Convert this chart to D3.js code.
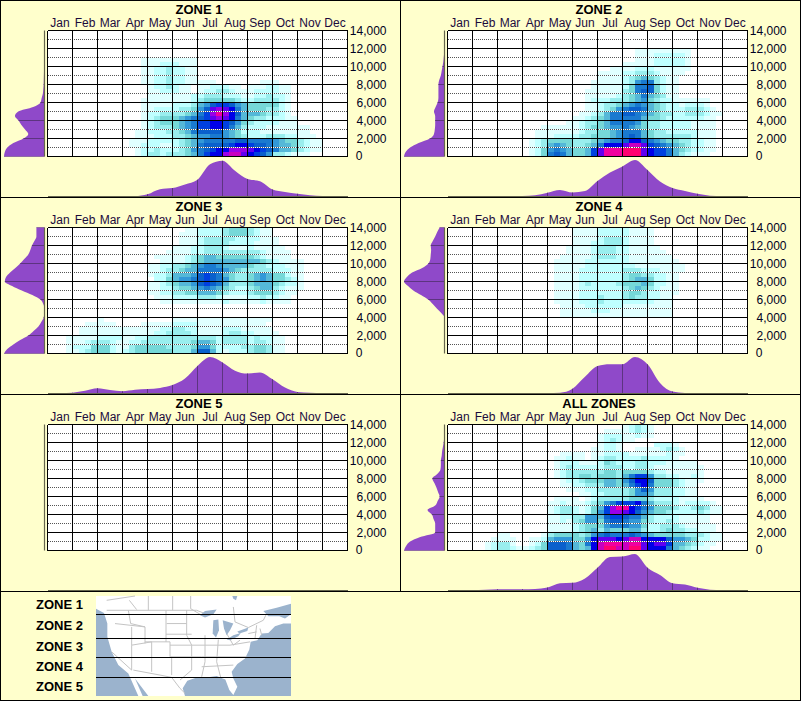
<!DOCTYPE html>
<html><head><meta charset="utf-8">
<script src="https://cdn.jsdelivr.net/npm/d3@7/dist/d3.min.js"></script>
<style>html,body{margin:0;padding:0;background:#ffffcc}svg{display:block}text{font-family:"Liberation Sans",Arial,sans-serif}</style>
</head><body><svg id="c" width="801" height="701"></svg>
<script>
const months = ["Jan","Feb","Mar","Apr","May","Jun","Jul","Aug","Sep","Oct","Nov","Dec"];
const elevationTicks = [0,2000,4000,6000,8000,10000,12000,14000];
const panelTitles = ["ZONE 1","ZONE 2","ZONE 3","ZONE 4","ZONE 5","ALL ZONES"];
const legendNames = ["ZONE 1","ZONE 2","ZONE 3","ZONE 4","ZONE 5"];
// Sighting-density levels, hex digit per quarter-month cell; "start:levels", row 0 = 13,500-14,000 ft
const levelColors = ["#ffffff","#e0ffff","#bfffff","#99eeee","#76d8d8","#55b8d8","#3399d8","#1a7ad0","#0a60cc","#0040e0","#0000e8","#6000f0","#9a00e8","#c800c0","#f000a0","#ff0070"];
const zone1Cells = ["","","","","","",
"15:111111111","15:111222111","15:112232211","15:112232211","15:112232211",
"15:112232211 111 0000000 111",
"16:1223211 0 1122211 0 1112211",
"16:1122211 0 1223321 1 1222211",
"16:1111111 22333222 11 22322 1",
"15:11111111 234444432 2333321",
"15:11111222 3 56899865 4444421",
"15:112222334 68bcba75 4443321",
"15:122333345 79ceca85 5543321",
"15:123444567 89bcba75 43322211",
"15:123444567 99aa9864 32222111",
"15:123334567 99aa9753 2221111111",
"14:1122233457 88886542 2211111111",
"14:1112223345 66776543 22233322111",
"13:11122222345 67777788 777765443211",
"13:11222112345 788889aa 988765543211",
"14:1223222346 789aaccc ba9875543211",
"14:1233233345 79aacddb a986332111"];
const zone2Cells = ["","","","",
"30:111111111","30:111222221","30:111222221","28:11111222221","26:1111222111111",
"24:1111 2233321111","24:1111 234543211","23:11111 236773211","23:11111 247784211",
"22:111111 347884211","22:11111 2345754311",
"22:12223334564322111111","22:11233456765432212221","22:112346788754322233321",
"21:11235778876543322333211","20:11234577777544322222211","19:112334577776433222221111",
"15:111111 2344566765433222221111","14:1111111 2334456777543322222111",
"14:11122223344456787543333332111","13:1234444333456778aa876544332211",
"13:123565433457aaabddb98765432211","13:1246765445 9beeefffba 9975432211",
"13:1247875445 9beeefffba 997532111"];
const zone3Cells = ["22:11222234443211","21:111222234443211","21:1112333332222111","21:1112333322221111",
"20:111223332111211111","19:11112233333333321111","17:1111123455444444321111","18:1111234 555555555 432 1111",
"16:1122334567765555433222111","16:1123345577776543333322211","16:1223555689875433456544211",
"17:224566789876433456544321","16:1123455689875333455543221","16:1122344567654322345532111",
"16:112233445554322234443211","17:1112222333211112232211","18:1111111111 2 11111 2 1111","","","",
"8:1 00000000000 1111111111111111","6:11111 0000 11111 2222 11111111111",
"5:1111111111111 223322 1111 222 11111","5:111111111111 2233332 1111 23322 1111",
"3:11111 2222 11 22 33333333333 2 3333 2 3 22 11","3:111 2333 2 11 22 33333333 4554 2 3333 2 33 2 11",
"3:1222 444 2 11 3 44444 3333 4664 2222 33 44 3 11","3:11 23444 2 1 23 444444 333 5885 2 1 222 3 44 3 11"];
const zone4Cells = ["20:1111 22222 1111","20:1111 22222 1111","20:1111 23332 1111","20:111 2 2333 2 1111",
"19:1111 2 333 22 11111","19:1111 2 333 22 111111","18:11111 2 333 22 1111111","17:11111 2222222 11111111",
"17:11111 22222222 11111111","17:1111 2222222 333 222 1111","17:1111 2222222 3 44 33 22 11",
"17:1111 2222222 3 455 4 22 11","17:1111 2 3 2222 3 444 5 4 22 11","17:1111 2222222 3 45 4 3 2 111",
"17:1111 2222222 3 44 3 22 111","17:1111 222 3 222 3 4 33 22 11","17:1111 222 3 22222222 111",
"18:1111 222222 11111 111","18:11111 222 111111111 1","18:111111111111111111","","","","","","","",""];
const zone5Cells = [];
const allZoneCells = ["28:12321","25:111 1 2321","24:1222 1 1 2 1 1","24:123211","24:1221 00000 222 1",
"23:11221 00 1111 2321","18:1111 0 11 2222 111111 211","17:11211 0 1 2 33 2222 3 2222 1",
"17:1222 111 2 4 3 222 33 222 11111","17:123 22222 333 22 33 2 11111111","17:12 333333 44 3 4444 3 22 111111",
"17:1233 44 3 444 3 57996 3322 1121","18:1223444 55 4 68aa8 44432111","18:1122333 554 579a7 4443211",
"19:111 22 33333 4686 33322 11","21:11 22 3333 4665 33322 11","17:1111 0 1 2 33333 4443 2222 1111",
"16:112111 23 4679 99a7 5 33321 22221","16:123321 24 59ceea97 6 44432 234311","16:123321 24 69ccba86 5 44322 223211",
"16:112233 66 58998775 3 2222 11111","16:112134 66 47887664 3 22 3 2 11111","16:111123 44 46777664 2 2 333 2 11111",
"16:111123 45 35444553 2 2 34 33 22 111","8:11 00000 1 3444 4 3 4 6 78777876 5 44444 33321 1",
"7:1111 00 11 2 5666 44 6 a bbbabdda aaa 8 66542211","6:12331 00 12 4 8887 54 7 a deeedeeb a bb 9 5543211",
"6:12332 1 1 2 3 4 8887 54 5 a dffddffb aaa 7 543211"];
// Marginal densities: month profile at half-month steps, elevation profile at 500 ft steps from 0
const zone1Months = [0,0,0,0,0,0,0,0,.05,.19,.22,.32,.45,.88,.98,.7,.47,.41,.18,.11,.06,.02,0,0,0];
const zone2Months = [0,0,0,0,0,0,0,.02,.09,.17,.1,.14,.42,.65,.82,1,.72,.4,.22,.14,.06,.01,0,0,0];
const zone3Months = [0,0,.01,.06,.13,.08,.05,.09,.11,.14,.22,.4,.75,1,.85,.62,.54,.57,.38,.15,.03,.01,0,0,0];
const zone4Months = [0,0,0,0,0,0,0,0,0,.01,.12,.45,.75,.8,.8,1,.8,.28,.04,0,0,0,0,0,0];
const zone5Months = [];
const allMonths = [0,0,0,.01,.02,.02,.02,.03,.07,.19,.2,.32,.62,.92,.93,1,.62,.42,.19,.15,.06,.01,0,0,0];
const zone1Elev = [1,.98,.92,.77,.52,.4,.48,.57,.64,.73,.65,.28,.1,.07,.04,.03,.02,.018,.015,.012,.01,.006,.004,0,0,0,0,0,0];
const zone2Elev = [1,.96,.85,.64,.36,.26,.24,.23,.23,.23,.26,.22,.17,.15,.15,.15,.15,.13,.09,.07,.05,.03,.02,.01,.01,0,0,0,0];
const zone3Elev = [1,.92,.77,.6,.4,.27,.15,.08,.02,.005,0,.03,.1,.3,.56,.8,.98,.95,.85,.72,.6,.5,.4,.35,.31,.25,.2,.2,.2];
const zone4Elev = [0,0,0,0,0,0,0,0,0,.08,.19,.29,.4,.58,.77,.9,1,.93,.8,.55,.4,.35,.34,.33,.34,.29,.23,.18,.12];
const zone5Elev = [];
const allElev = [1,.95,.85,.6,.23,.23,.23,.27,.31,.42,.23,.17,.12,.16,.2,.25,.3,.18,.1,.09,.09,.07,.06,.04,.02,.01,0,0,0];

const panels = [
 {cells:zone1Cells,m:zone1Months,e:zone1Elev},{cells:zone2Cells,m:zone2Months,e:zone2Elev},
 {cells:zone3Cells,m:zone3Months,e:zone3Elev},{cells:zone4Cells,m:zone4Months,e:zone4Elev},
 {cells:zone5Cells,m:zone5Months,e:zone5Elev},{cells:allZoneCells,m:allMonths,e:allElev}];

const svg = d3.select("#c");
svg.append("rect").attr("width",801).attr("height",701).attr("fill","#ffffcc");
const x0=47.5,x1=347.5,yTop=30.5,yBot=156.5;
const month = d3.scaleLinear().domain([0,12]).range([x0,x1]);
const monthBand = d3.scaleBand().domain(months).range([x0,x1]);
const alt = d3.scaleLinear().domain([0,14000]).range([yBot,yTop]);
const col = d3.scaleBand().domain(d3.range(48)).range([x0,x1]);
const row = d3.scaleBand().domain(d3.range(28)).range([yTop,yBot]);
const mDen = d3.scaleLinear().domain([0,1]).range([196,160]);
const eDen = d3.scaleLinear().domain([0,1]).range([44.5,4]);
const PURPLE="#8f49c9",DARK="#5c3480",BASE="#66664e";

function parseCells(rows){
  const out=[];
  rows.forEach((s,r)=>{
    if(!s) return;
    const [st,lv]=s.split(":");
    lv.replace(/ /g,"").split("").forEach((ch,i)=>{
      const v=parseInt(ch,16);
      if(v>0) out.push({r,c:+st+i,v});
    });
  });
  return out;
}
panels.forEach((p,i)=>{
  const px=(i%2)*400, py=Math.floor(i/2)*197;
  const g=svg.append("g").attr("transform",`translate(${px},${py})`);
  g.append("text").attr("x",199).attr("y",14).attr("text-anchor","middle").attr("font-size",13).attr("font-weight","bold").attr("fill","#000").text(panelTitles[i]);
  // plot area
  g.append("rect").attr("x",x0).attr("y",yTop).attr("width",x1-x0).attr("height",yBot-yTop).attr("fill","#fff");
  g.append("g").selectAll("rect").data(parseCells(p.cells)).join("rect")
    .attr("x",d=>col(d.c)).attr("y",d=>row(d.r)).attr("width",col.bandwidth()).attr("height",row.bandwidth())
    .attr("fill",d=>levelColors[d.v]).attr("shape-rendering","crispEdges");
  // dotted half-ticks
  const halves=elevationTicks.slice(0,-1).map(d=>d+1000);
  const hg=g.append("g").attr("shape-rendering","crispEdges");
  hg.selectAll(".w").data(halves).join("line").attr("class","w").attr("x1",x0).attr("x2",x1).attr("y1",alt).attr("y2",alt).attr("stroke","#fff");
  hg.selectAll(".d").data(halves).join("line").attr("class","d").attr("x1",x0).attr("x2",x1).attr("y1",alt).attr("y2",alt).attr("stroke","#555").attr("stroke-dasharray","1,1");
  // solid grid
  const gg=g.append("g").attr("shape-rendering","crispEdges").attr("stroke","#000");
  gg.selectAll(".h").data(elevationTicks).join("line").attr("class","h").attr("x1",x0).attr("x2",x1).attr("y1",alt).attr("y2",alt);
  gg.selectAll(".v").data(d3.range(13)).join("line").attr("class","v").attr("x1",month).attr("x2",month).attr("y1",yTop).attr("y2",yBot);
  // axes
  const top=d3.axisTop(monthBand).tickSize(0).tickPadding(0);
  const ta=g.append("g").attr("transform",`translate(0,27)`).call(top);
  ta.select(".domain").remove();
  ta.selectAll("text").attr("y",0).attr("dy",0).attr("font-size",12).attr("font-family",null).attr("fill","#1c0a3c");
  const right=d3.axisRight(alt).tickValues(elevationTicks).tickFormat(d3.format(",")).tickSize(0).tickPadding(0);
  const ra=g.append("g").attr("transform",`translate(386.5,0)`).call(right);
  ra.select(".domain").remove();
  ra.selectAll("text").attr("text-anchor","end").attr("x",0).attr("dy",null).attr("y",4).attr("font-size",12).attr("font-family",null).attr("fill","#000022");
  ra.selectAll(".tick").filter(d=>d===0).select("text").attr("x",-24).attr("y",3);
  // bottom density
  if(p.m.length){
    const area=d3.area().curve(d3.curveMonotoneX).x((d,k)=>month(k/2)).y0(mDen(0)).y1(d=>mDen(d));
    g.append("clipPath").attr("id","cm"+i).append("path").attr("d",area(p.m));
    g.append("path").attr("d",area(p.m)).attr("fill",PURPLE);
    g.append("g").attr("clip-path",`url(#cm${i})`).attr("shape-rendering","crispEdges").selectAll("line").data(d3.range(13)).join("line")
      .attr("x1",month).attr("x2",month).attr("y1",160).attr("y2",196).attr("stroke",DARK);
  }
  g.append("line").attr("x1",x0).attr("x2",x1).attr("y1",196.5).attr("y2",196.5).attr("stroke",BASE).attr("stroke-width",1).attr("shape-rendering","crispEdges");
  // left density
  if(p.e.length){
    const area=d3.area().curve(d3.curveMonotoneY).y((d,k)=>alt(k*500)).x0(eDen(0)).x1(d=>eDen(d));
    g.append("clipPath").attr("id","ce"+i).append("path").attr("d",area(p.e));
    g.append("path").attr("d",area(p.e)).attr("fill",PURPLE);
    g.append("g").attr("clip-path",`url(#ce${i})`).attr("shape-rendering","crispEdges").selectAll("line").data(elevationTicks).join("line")
      .attr("x1",4).attr("x2",44.5).attr("y1",alt).attr("y2",alt).attr("stroke",DARK);
  }
  g.append("line").attr("x1",44.5).attr("x2",44.5).attr("y1",yTop).attr("y2",yBot).attr("stroke",BASE).attr("stroke-width",1.2);
});
// panel frame
const frameH=[0.5,197.5,394.5,591.5,700.5], frameV=[0.5,400.5,800.5];
const fg=svg.append("g").attr("stroke","#000").attr("shape-rendering","crispEdges");
fg.selectAll(".h").data(frameH).join("line").attr("class","h").attr("x1",0).attr("x2",801).attr("y1",d=>d).attr("y2",d=>d);
fg.selectAll(".v").data(frameV).join("line").attr("class","v").attr("y1",0).attr("y2",d=>d===400.5?591:701).attr("x1",d=>d).attr("x2",d=>d);

// legend
const legendY=[609,630,651,671,691];
svg.append("g").selectAll("text").data(legendNames).join("text").attr("x",36).attr("y",(d,i)=>legendY[i]).attr("font-size",13).attr("font-weight","bold").attr("fill","#000").text(d=>d);
// zone map (reference image, source units)
const mapX=d3.scaleLinear().domain([288,873]).range([96,291]);
const mapY=d3.scaleLinear().domain([17,318]).range([596,696]);
const land=[[288,17],[873,17],[873,100],[850,100],[825,108],[805,128],[785,130],[772,150],[752,155],[748,178],[735,205],[712,222],[695,245],[700,265],[712,290],[700,315],[688,300],[676,268],[650,258],[620,262],[590,262],[562,272],[548,295],[555,318],[445,318],[405,265],[428,318],[415,318],[385,250],[355,225],[335,185],[322,140],[322,100],[312,68],[288,55]];
const waters=[[[790,62],[830,52],[873,40],[873,72],[855,85],[838,78],[805,78]],
 [[600,75],[615,62],[650,58],[640,72],[615,82]],[[640,90],[655,88],[657,120],[648,142],[638,130]],
 [[668,90],[700,100],[690,120],[680,135],[672,115]],[[680,148],[700,135],[722,128],[715,138],[690,150]],
 [[712,124],[745,112],[742,122],[718,130]],[[697,17],[712,17],[708,30],[700,25]]];
const borders=[[[320,60],[590,60],[620,72]],[[385,60],[392,100],[435,110]],[[435,110],[435,160]],[[435,155],[510,155],[510,200]],[[498,60],[498,155]],[[560,60],[560,135],[575,165],[575,200]],[[510,200],[605,200],[740,200]],[[345,100],[435,110]],[[395,110],[395,165],[455,155]],[[455,155],[455,245]],[[395,165],[395,240]],[[325,145],[395,145]],[[500,100],[560,100]],[[498,132],[575,132]],[[510,165],[575,165]],[[575,165],[690,165],[750,155]],[[615,135],[615,215],[605,260]],[[655,148],[650,215],[662,262]],[[720,150],[700,165],[680,130]],[[605,230],[700,225]],[[575,200],[575,240],[540,270]],[[480,255],[515,262],[540,295],[555,310]],[[515,200],[515,255]],[[400,240],[480,255]],[[335,185],[395,240]],[[770,105],[765,145]],[[780,115],[785,135]],[[745,130],[770,125]],[[320,30],[405,17]],[[445,17],[445,60]],[[518,17],[518,60]],[[572,17],[572,55],[605,75]],[[700,50],[705,95],[745,112],[790,90],[805,60]],[[388,30],[410,58]]];
const mapPath=pts=>d3.line().x(d=>mapX(d[0])).y(d=>mapY(d[1]))(pts);
const mg=svg.append("g");
mg.append("rect").attr("x",mapX(288)).attr("y",mapY(17)).attr("width",mapX(873)-mapX(288)).attr("height",mapY(318)-mapY(17)).attr("fill","#9bb3cd");
mg.append("path").attr("d",mapPath(land)+"Z").attr("fill","#fff");
mg.selectAll(".b").data(borders).join("path").attr("class","b").attr("d",mapPath).attr("fill","none").attr("stroke","#c4c4c4").attr("stroke-width",1);
mg.selectAll(".w").data(waters).join("path").attr("class","w").attr("d",d=>mapPath(d)+"Z").attr("fill","#9bb3cd");
const zoneLines=[71,143,200,260];
mg.selectAll(".z").data(zoneLines).join("line").attr("class","z").attr("x1",mapX(288)).attr("x2",mapX(873)).attr("y1",d=>Math.round(mapY(d))+.5).attr("y2",d=>Math.round(mapY(d))+.5).attr("stroke","#000").attr("shape-rendering","crispEdges");
</script></body></html>
